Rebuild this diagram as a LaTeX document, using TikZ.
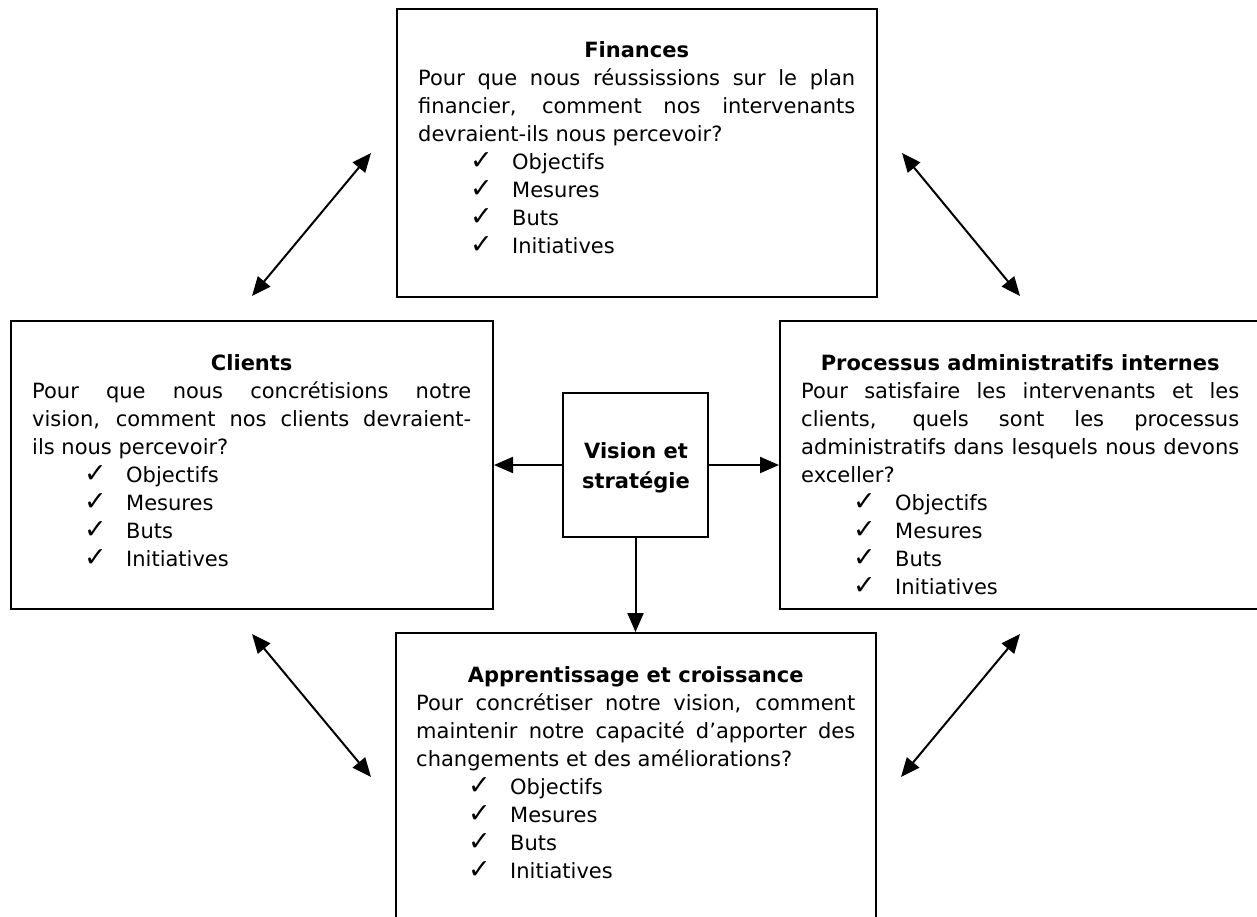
\documentclass[tikz,border=0pt]{standalone}
\usepackage{fontspec}
\setmainfont{DejaVu Sans}
\usetikzlibrary{arrows.meta}
\newcommand{\jl}[1]{\makebox[\linewidth][s]{#1}\\}
\newcommand{\nl}[1]{#1\\}
\newcommand{\ttl}[1]{\makebox[\linewidth][c]{\bfseries #1}\\}
\newcommand{\itm}[1]{\hspace*{52pt}\makebox[42pt][l]{\fontsize{27pt}{28pt}\selectfont ✓}#1\\}
\newcommand{\items}{\itm{Objectifs}\itm{Mesures}\itm{Buts}\itm{Initiatives}}
\newenvironment{boxtext}[1]{\begin{minipage}[t]{#1}\fontsize{21pt}{28pt}\selectfont}{\end{minipage}}
\tikzset{
  panel/.style={draw, line width=2pt, inner sep=0pt, minimum width=480pt, minimum height=288pt},
  txt/.style={anchor=base west, inner sep=0pt},
  tip/.tip={Triangle[length=19pt,width=16pt]},
  arr/.style={line width=2pt, -tip},
  dbl/.style={line width=2pt, tip-tip}
}
\begin{document}
\begin{tikzpicture}[x=1pt,y=1pt]
\useasboundingbox (0,0) rectangle (1257,-917);
\fill[white] (0,0) rectangle (1257,-917);
% boxes
\node[panel] (fin) at (637,-153) {};
\node[panel, minimum width=482pt] (cli) at (252,-465) {};
\node[panel] (pro) at (1020,-465) {};
\node[panel] (app) at (636,-777) {};
\node[draw, line width=2pt, inner sep=0pt, minimum width=145pt, minimum height=144pt] (vis) at (635.5,-465) {};
% texts
\node[txt] (fint) at (418,-58) {\begin{boxtext}{437pt}
\ttl{Finances}
\jl{Pour que nous réussissions sur le plan}
\jl{financier, comment nos intervenants}
\nl{devraient-ils nous percevoir?}
\items
\end{boxtext}};
\node[txt] (clit) at (32,-370) {\begin{boxtext}{439pt}
\ttl{Clients}
\jl{Pour que nous concrétisions notre}
\jl{vision, comment nos clients devraient-}
\nl{ils nous percevoir?}
\items
\end{boxtext}};
\node[txt] (prot) at (801,-370) {\begin{boxtext}{438pt}
\ttl{Processus administratifs internes}
\jl{Pour satisfaire les intervenants et les}
\jl{clients, quels sont les processus}
\jl{administratifs dans lesquels nous devons}
\nl{exceller?}
\items
\end{boxtext}};
\node[txt] (appt) at (416,-682) {\begin{boxtext}{439pt}
\ttl{Apprentissage et croissance}
\jl{Pour concrétiser notre vision, comment}
\jl{maintenir notre capacité d’apporter des}
\nl{changements et des améliorations?}
\items
\end{boxtext}};
\node[inner sep=0pt, anchor=base] (vist) at (636,-458) {\begin{minipage}[t]{140pt}\centering\fontsize{21pt}{30pt}\selectfont\bfseries Vision et\\stratégie\end{minipage}};
% arrows
\draw[arr] (vis.west) -- (cli.east);
\draw[arr] (vis.east) -- (pro.west);
\draw[arr] (vis.south) -- (vis.south |- app.north);
\draw[dbl] ([yshift=24pt]cli.north) -- ([xshift=-25pt]fin.west);
\draw[dbl] ([xshift=24pt]fin.east) -- ([yshift=24pt]pro.north);
\draw[dbl] ([yshift=-24pt]cli.south) -- ([xshift=-24pt]app.west);
\draw[dbl] ([yshift=-24pt]pro.south) -- ([xshift=24pt]app.east);
\end{tikzpicture}
\end{document}
